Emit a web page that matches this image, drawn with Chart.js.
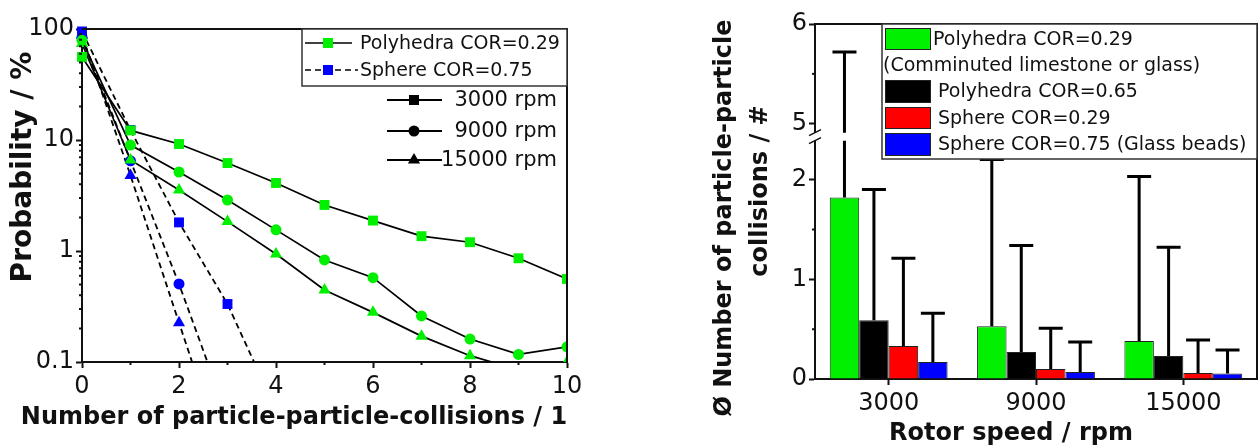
<!DOCTYPE html>
<html>
<head>
<meta charset="utf-8">
<script src="https://cdn.jsdelivr.net/npm/chart.js@4.4.1/dist/chart.umd.min.js"></script>
<style>
  html, body { margin: 0; padding: 0; background: #fff; }
  #wrap { position: relative; width: 1259px; height: 448px; overflow: hidden; }
  #left { position: absolute; left: 0; top: 0; }
  #right { position: absolute; left: 690px; top: 0; }
</style>
</head>
<body>
<div id="wrap">
  <canvas id="left" width="600" height="448"></canvas>
  <canvas id="right" width="569" height="448"></canvas>
</div>
<script>
// ---- left panel: probability vs. number of collisions ----
var collisions = [0, 1, 2, 3, 4, 5, 6, 7, 8, 9, 10];
var poly3000  = [56, 12.2, 9.2, 6.2, 4.1, 2.6, 1.88, 1.36, 1.2, 0.86, 0.56];
var poly9000  = [79, 9.0, 5.15, 2.88, 1.55, 0.83, 0.575, 0.26, 0.161, 0.117, 0.137];
var poly15000 = [74, 6.6, 3.55, 1.84, 0.94, 0.445, 0.28, 0.171, 0.114, 0.085, 0.1];
var sphere3000  = [95, 12.3, 1.81, 0.333, 0.037];
var sphere9000  = [84, 6.5, 0.505, 0.032];
var sphere15000 = [88, 4.8, 0.226, 0.011];

var xMajor = [0, 2, 4, 6, 8, 10];
var xMinor = [1, 3, 5, 7, 9];
var yMajor = [0.1, 1, 10, 100];
var yMinor = [0.2, 0.3, 0.4, 0.5, 0.6, 0.7, 0.8, 0.9, 2, 3, 4, 5, 6, 7, 8, 9, 20, 30, 40, 50, 60, 70, 80, 90];

// ---- right panel: mean number of collisions per rotor speed ----
var speeds = ['3000', '9000', '15000'];
var seriesNames = ['Polyhedra COR=0.29', 'Polyhedra COR=0.65', 'Sphere COR=0.29', 'Sphere COR=0.75 (Glass beads)'];
var polyLow     = [1.82, 0.53, 0.38];
var polyLowTop  = [5.72, 2.20, 2.03];
var polyHigh    = [0.59, 0.27, 0.23];
var polyHighTop = [1.90, 1.34, 1.32];
var sphLow      = [0.33, 0.10, 0.06];
var sphLowTop   = [1.21, 0.51, 0.39];
var sphHigh     = [0.17, 0.07, 0.055];
var sphHighTop  = [0.66, 0.37, 0.29];

var lowMajor = [0, 1, 2];
var lowMinor = [0.5, 1.5];
var topMajor = [5, 6];
var topMinor = [5.5];

var INK = '#111111';
var GREEN = 'rgb(0,240,0)';
var BLUE = '#0000ff';
var RED = '#ff0000';
var BLACK = '#000000';

Chart.defaults.font.family = "'DejaVu Sans', sans-serif";
Chart.defaults.color = INK;

function fixTicks(values) {
  return function(scale) {
    scale.ticks = values.map(function(v) { return {value: v}; });
  };
}

function drawMinor(chart, id, values, len) {
  var s = chart.scales[id], ctx = chart.ctx;
  ctx.save();
  ctx.strokeStyle = INK;
  ctx.lineWidth = 2;
  ctx.beginPath();
  values.forEach(function(v) {
    var p = s.getPixelForValue(v);
    if (s.isHorizontal()) { ctx.moveTo(p, s.top); ctx.lineTo(p, s.top + len); }
    else { ctx.moveTo(s.right, p); ctx.lineTo(s.right - len, p); }
  });
  ctx.stroke();
  ctx.restore();
}

function marker(ctx, style, x, y, color) {
  ctx.fillStyle = color;
  ctx.beginPath();
  if (style === 'rect') ctx.rect(x - 5, y - 5, 10, 10);
  else if (style === 'circle') ctx.arc(x, y, 5.5, 0, Math.PI * 2);
  else { ctx.moveTo(x, y - 7); ctx.lineTo(x + 6.1, y + 3.5); ctx.lineTo(x - 6.1, y + 3.5); ctx.closePath(); }
  ctx.fill();
}

function frame(chart) {
  var ctx = chart.ctx, ca = chart.chartArea;
  ctx.save();
  ctx.strokeStyle = INK;
  ctx.lineWidth = 2;
  ctx.beginPath();
  ctx.moveTo(ca.left, ca.top);
  ctx.lineTo(ca.right, ca.top);
  ctx.lineTo(ca.right, ca.bottom);
  ctx.stroke();
  ctx.restore();
}

function title(ctx, text, x, y, size, rot) {
  ctx.save();
  ctx.translate(x, y);
  ctx.rotate(rot || 0);
  ctx.font = 'bold ' + size + "px 'DejaVu Sans', sans-serif";
  ctx.fillStyle = INK;
  ctx.textAlign = 'center';
  ctx.textBaseline = 'middle';
  ctx.fillText(text, 0, 0);
  ctx.restore();
}

function axisOpts(extra) {
  var o = {
    grid: { drawOnChartArea: false, tickLength: 6, tickWidth: 2, tickColor: INK },
    border: { width: 2, color: INK },
    ticks: { font: { size: 24 }, color: INK, padding: 2 }
  };
  for (var k in extra) o[k] = extra[k];
  return o;
}

function pts(ys) {
  return ys.map(function(y, i) { return {x: collisions[i], y: y}; });
}

function lineSet(label, ys, style, color, dashed) {
  return {
    label: label,
    data: pts(ys),
    borderColor: BLACK,
    borderWidth: dashed ? 1.8 : 1.7,
    borderDash: dashed ? [6, 4] : [],
    pointStyle: style,
    pointRadius: style === 'circle' ? 5.5 : 7,
    pointBorderWidth: 0,
    pointBackgroundColor: color,
    fill: false,
    tension: 0,
    clip: {left: 10, top: 10, right: 0, bottom: 0}
  };
}

var leftDecor = {
  id: 'leftDecor',
  afterDraw: function(chart) {
    var ctx = chart.ctx, ca = chart.chartArea;
    frame(chart);
    drawMinor(chart, 'x', xMinor, 3);
    drawMinor(chart, 'y', yMinor, 3);

    // legend box (material) and rotor speed key
    var bx = ca.right - 265, by = ca.top;
    ctx.save();
    ctx.fillStyle = '#fff';
    ctx.fillRect(bx, by, 265, 57);
    ctx.strokeStyle = '#333';
    ctx.lineWidth = 1.5;
    ctx.strokeRect(bx, by, 265, 57);

    ctx.strokeStyle = BLACK;
    ctx.lineWidth = 1.7;
    ctx.beginPath(); ctx.moveTo(bx + 3, by + 14); ctx.lineTo(bx + 50, by + 14); ctx.stroke();
    marker(ctx, 'rect', bx + 26, by + 14, GREEN);
    ctx.setLineDash([6, 4]);
    ctx.beginPath(); ctx.moveTo(bx + 3, by + 41); ctx.lineTo(bx + 56, by + 41); ctx.stroke();
    ctx.setLineDash([]);
    marker(ctx, 'rect', bx + 26, by + 41, BLUE);

    ctx.font = "19px 'DejaVu Sans', sans-serif";
    ctx.fillStyle = INK;
    ctx.textBaseline = 'middle';
    ctx.textAlign = 'left';
    ctx.fillText('Polyhedra COR=0.29', bx + 58, by + 15);
    ctx.fillText('Sphere COR=0.75', bx + 58, by + 42);

    var rows = [['rect', '3000 rpm', 71], ['circle', '9000 rpm', 102], ['triangle', '15000 rpm', 131]];
    ctx.font = "21px 'DejaVu Sans', sans-serif";
    ctx.textAlign = 'right';
    rows.forEach(function(r) {
      var y = by + r[2];
      ctx.strokeStyle = BLACK;
      ctx.lineWidth = 2;
      ctx.beginPath(); ctx.moveTo(bx + 85, y); ctx.lineTo(bx + 140, y); ctx.stroke();
      marker(ctx, r[0], bx + 112, y, BLACK);
      ctx.fillStyle = INK;
      ctx.fillText(r[1], ca.right - 10, y + 1);
    });
    ctx.restore();

    title(ctx, 'Number of particle-particle-collisions / 1', 294, 418, 24, 0);
    title(ctx, 'Probability / %', 24, 167, 28, -Math.PI / 2);
  }
};

new Chart(document.getElementById('left'), {
  type: 'line',
  data: {
    datasets: [
      lineSet('Polyhedra COR=0.29, 3000 rpm', poly3000, 'rect', GREEN, false),
      lineSet('Polyhedra COR=0.29, 9000 rpm', poly9000, 'circle', GREEN, false),
      lineSet('Polyhedra COR=0.29, 15000 rpm', poly15000, 'triangle', GREEN, false),
      lineSet('Sphere COR=0.75, 3000 rpm', sphere3000, 'rect', BLUE, true),
      lineSet('Sphere COR=0.75, 9000 rpm', sphere9000, 'circle', BLUE, true),
      lineSet('Sphere COR=0.75, 15000 rpm', sphere15000, 'triangle', BLUE, true)
    ]
  },
  options: {
    responsive: false,
    animation: false,
    events: [],
    layout: { padding: { top: 29, right: 33, left: 0, bottom: 0 } },
    plugins: { legend: { display: false }, tooltip: { enabled: false } },
    scales: {
      x: axisOpts({
        type: 'linear', min: 0, max: 10,
        afterBuildTicks: fixTicks(xMajor),
        ticks: { font: { size: 24 }, color: INK, padding: 4 },
        afterFit: function(s) { s.height = 86; }
      }),
      y: axisOpts({
        type: 'logarithmic', min: 0.1, max: 100,
        afterBuildTicks: fixTicks(yMajor),
        ticks: { font: { size: 24 }, color: INK, padding: 2, callback: function(v) { return String(v); } },
        afterFit: function(s) { s.width = 82; }
      })
    }
  },
  plugins: [leftDecor]
});

// ---- right panel ----
var errorBars = {
  id: 'errorBars',
  afterDatasetsDraw: function(chart) {
    var ctx = chart.ctx, low = chart.scales.y, hi = chart.scales.yTop;
    ctx.save();
    ctx.strokeStyle = BLACK;
    ctx.lineWidth = 3;
    chart.data.datasets.forEach(function(ds, i) {
      chart.getDatasetMeta(i).data.forEach(function(bar, j) {
        var v = ds.errTop[j];
        var yp;
        ctx.beginPath();
        if (v > low.max) {
          yp = hi.getPixelForValue(v);
          ctx.moveTo(bar.x, bar.y); ctx.lineTo(bar.x, low.top + 4);
          ctx.moveTo(bar.x, hi.bottom - 4); ctx.lineTo(bar.x, yp);
        } else {
          yp = low.getPixelForValue(v);
          ctx.moveTo(bar.x, bar.y); ctx.lineTo(bar.x, yp);
        }
        ctx.moveTo(bar.x - 12, yp); ctx.lineTo(bar.x + 12, yp);
        ctx.stroke();
      });
    });
    ctx.restore();
  }
};

var rightDecor = {
  id: 'rightDecor',
  afterDraw: function(chart) {
    var ctx = chart.ctx, ca = chart.chartArea, low = chart.scales.y;
    frame(chart);
    drawMinor(chart, 'y', lowMinor, 3);
    drawMinor(chart, 'yTop', topMinor, 3);

    // axis break
    var L = ca.left, b = low.top;
    ctx.save();
    ctx.fillStyle = '#fff';
    ctx.fillRect(L - 3, b - 4, 6, 8);
    ctx.strokeStyle = INK;
    ctx.lineWidth = 1.5;
    ctx.beginPath();
    ctx.moveTo(L - 6, b - 1); ctx.lineTo(L + 6, b - 7);
    ctx.moveTo(L - 6, b + 7); ctx.lineTo(L + 6, b + 1);
    ctx.stroke();

    // legend
    var bx = ca.left + 67, by = ca.top, bw = ca.right - bx, bh = 135;
    ctx.fillStyle = '#fff';
    ctx.fillRect(bx, by, bw, bh);
    ctx.strokeStyle = '#333';
    ctx.lineWidth = 1.5;
    ctx.strokeRect(bx, by, bw, bh);

    var sw = [[4, 22], [56, 23], [83, 22], [109, 23]];
    var tx = [bx + 51, bx + 56, bx + 56, bx + 56];
    ctx.font = "19px 'DejaVu Sans', sans-serif";
    ctx.textBaseline = 'middle';
    ctx.textAlign = 'left';
    chart.data.datasets.forEach(function(ds, i) {
      ctx.fillStyle = ds.backgroundColor;
      ctx.fillRect(bx + 3, by + sw[i][0], 46, sw[i][1]);
      ctx.strokeStyle = '#222';
      ctx.lineWidth = 1;
      ctx.strokeRect(bx + 3.5, by + sw[i][0] + 0.5, 45, sw[i][1] - 1);
      ctx.fillStyle = INK;
      ctx.fillText(seriesNames[i], tx[i], by + sw[i][0] + sw[i][1] / 2 + 1);
    });
    ctx.fillText('(Comminuted limestone or glass)', bx + 1, by + 42);
    ctx.restore();

    title(ctx, 'Rotor speed / rpm', 321, 434, 24, 0);
    title(ctx, '\u00d8 Number of particle-particle', 35, 218, 24, -Math.PI / 2);
    title(ctx, 'collisions / #', 71, 191, 24, -Math.PI / 2);
  }
};

function barSet(label, values, tops, color) {
  return {
    label: label,
    data: values,
    errTop: tops,
    backgroundColor: color,
    borderColor: '#222',
    borderWidth: 1,
    yAxisID: 'y',
    categoryPercentage: 0.8,
    barPercentage: 1.0
  };
}

new Chart(document.getElementById('right'), {
  type: 'bar',
  data: {
    labels: speeds,
    datasets: [
      barSet(seriesNames[0], polyLow, polyLowTop, GREEN),
      barSet(seriesNames[1], polyHigh, polyHighTop, BLACK),
      barSet(seriesNames[2], sphLow, sphLowTop, RED),
      barSet(seriesNames[3], sphHigh, sphHighTop, BLUE)
    ]
  },
  options: {
    responsive: false,
    animation: false,
    events: [],
    layout: { padding: { top: 24, right: 2, left: 0, bottom: 0 } },
    plugins: { legend: { display: false }, tooltip: { enabled: false } },
    scales: {
      x: axisOpts({
        offset: true,
        grid: { offset: false, drawOnChartArea: false, tickLength: 6, tickWidth: 2, tickColor: INK },
        ticks: { font: { size: 24 }, color: INK, padding: 4 },
        afterFit: function(s) { s.height = 69; }
      }),
      y: axisOpts({
        position: 'left', stack: 'rows', stackWeight: 2.43, weight: 0,
        min: 0, max: 2.43,
        afterBuildTicks: fixTicks(lowMajor),
        afterFit: function(s) { s.width = 125; }
      }),
      yTop: axisOpts({
        position: 'left', stack: 'rows', stackWeight: 1.13, weight: 1,
        min: 4.87, max: 6,
        afterBuildTicks: fixTicks(topMajor),
        afterFit: function(s) { s.width = 125; }
      })
    }
  },
  plugins: [errorBars, rightDecor]
});
</script>
</body>
</html>
